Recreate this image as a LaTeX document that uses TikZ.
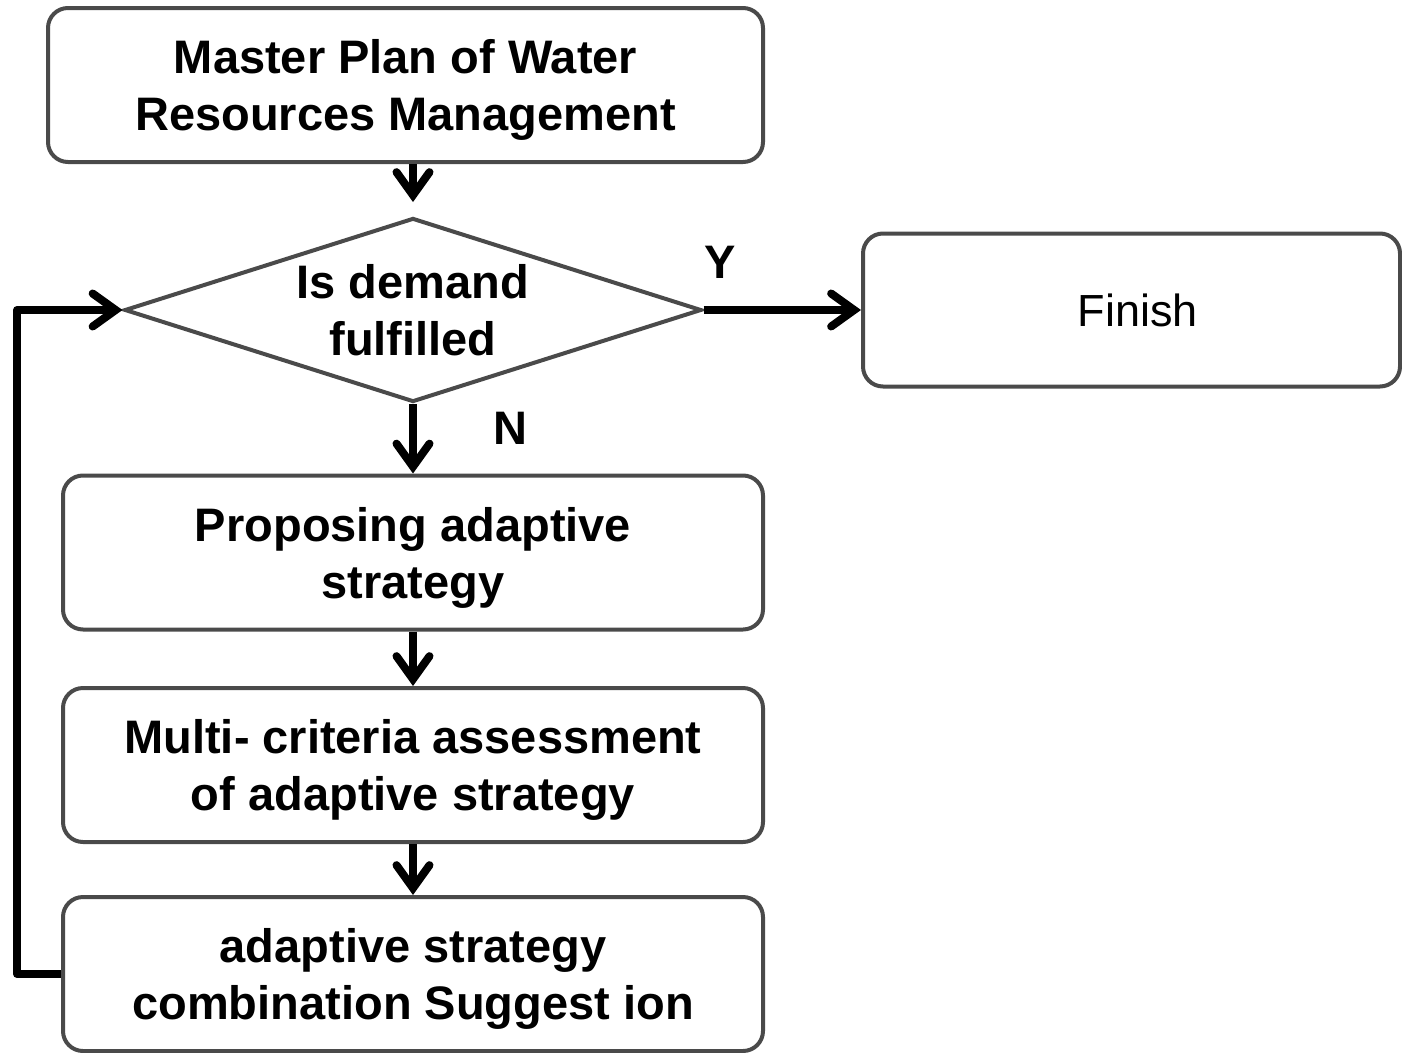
\documentclass[tikz,border=0pt]{standalone}
\usepackage{fontspec}
\setmainfont{Liberation Sans}
\usetikzlibrary{arrows.meta,shapes.geometric}
\definecolor{boxgray}{HTML}{4A4A4A}
\begin{document}
\begin{tikzpicture}[x=1pt,y=-1pt,
  box/.style={draw=boxgray, line width=4pt, rounded corners=20pt,
    minimum width=700pt, minimum height=154pt, align=center,
    font=\fontsize{47}{57}\selectfont\bfseries, inner sep=0pt, text depth=0pt},
  conn/.style={line width=8pt, line join=round,
    -{Straight Barb[length=23pt,width=33pt,line cap=round,line join=miter]}},
  lbl/.style={font=\fontsize{47}{57}\selectfont\bfseries, inner sep=0pt}
]
\useasboundingbox (0,0) rectangle (1402,1052);
\node[box, minimum width=715pt] (plan) at (405.5,85) {Master Plan of Water\\Resources Management};
\node[draw=boxgray, line width=4pt, diamond, aspect=3.14, minimum width=577pt,
  minimum height=184pt, inner sep=0pt, align=center, text depth=0pt,
  font=\fontsize{47}{57}\selectfont\bfseries] (dem) at (413,310) {Is demand\\fulfilled};
\node[box, minimum width=537pt, minimum height=153pt,
  font=\fontsize{45}{57}\selectfont] (fin) at (1131.5,310) {\hspace{13pt}Finish};
\node[box] (prop) at (413,552.5) {Proposing adaptive\\strategy};
\node[box] (multi) at (413,765) {Multi- criteria assessment\\of adaptive strategy};
\node[box] (comb) at (413,974) {adaptive strategy\\combination Suggest ion};
\node[lbl] (ylab) at (720,262) {Y};
\node[lbl] (nlab) at (510,428) {N};
\coordinate (c1) at (17,974);
\coordinate (c2) at (17,310);
\draw[conn, shorten >=14pt] (plan.south -| dem.north) -- (dem.north);
\draw[conn] (dem.east) -- (fin.west);
\draw[conn] (dem.south) -- (prop.north);
\draw[conn] (prop.south) -- (multi.north);
\draw[conn] (multi.south) -- (comb.north);
\draw[conn] (comb.west) -- (c1) -- (c2) -- (dem.west);
\end{tikzpicture}
\end{document}
